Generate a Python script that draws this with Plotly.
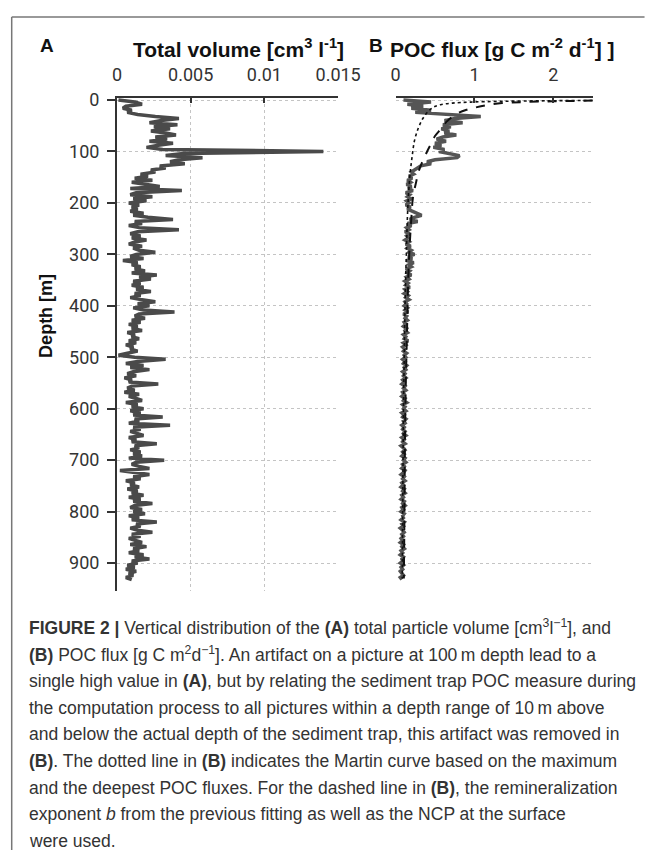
import plotly.graph_objects as go

# Depth grid of the profiles [m]
DEPTH = list(range(0, 936, 4))

# Total particle volume, in 10^-3 cm^3 l^-1 (one row = 40 m)
VOLUME_E3 = [
    0.1, 1.2, 1.7, 0.6, 0.4, 1.0, 0.7, 1.4, 2.6, 4.2,
    3.0, 2.2, 4.1, 2.5, 3.6, 2.3, 3.3, 4.0, 2.6, 3.4,
    2.2, 3.8, 2.8, 2.0, 3.1, 14.0, 4.5, 3.3, 5.8, 4.2,
    3.6, 4.6, 2.9, 3.3, 2.3, 2.6, 1.6, 2.1, 1.2, 2.4,
    1.0, 1.9, 2.9, 0.9, 4.4, 1.3, 0.9, 2.4, 1.1, 2.0,
    0.8, 1.5, 1.0, 1.4, 0.9, 1.8, 1.1, 2.1, 3.8, 1.2,
    1.7, 0.8, 1.5, 4.2, 1.4, 0.9, 1.6, 1.0, 2.0, 1.2,
    0.8, 1.7, 1.1, 1.5, 2.6, 1.3, 0.9, 1.8, 0.4, 1.4,
    1.0, 1.6, 1.2, 1.9, 1.0, 2.7, 1.5, 2.3, 1.1, 1.6,
    1.0, 1.8, 1.3, 2.3, 1.2, 1.6, 0.9, 1.7, 2.6, 1.4,
    2.2, 1.1, 1.8, 3.9, 1.5, 1.2, 1.9, 1.0, 1.6, 0.8,
    1.4, 1.0, 1.7, 0.7, 1.2, 1.0, 1.5, 0.8, 1.3, 0.6,
    1.1, 0.9, 1.4, 0.7, 0.1, 1.2, 3.3, 1.4, 0.6, 1.8,
    0.9, 2.2, 1.1, 0.7, 1.3, 0.5, 1.0, 0.8, 2.8, 1.0,
    0.7, 1.2, 0.5, 1.5, 0.8, 1.3, 1.7, 0.6, 1.4, 1.0,
    1.8, 0.9, 1.6, 1.1, 3.1, 1.2, 1.5, 0.8, 3.6, 1.1,
    1.6, 0.9, 1.4, 1.8, 0.8, 1.3, 1.0, 2.7, 1.2, 1.5,
    0.9, 1.6, 1.1, 1.7, 0.8, 3.2, 1.3, 1.0, 1.5, 2.2,
    0.2, 1.3, 2.2, 1.1, 1.6, 0.6, 1.2, 0.9, 1.5, 0.7,
    1.4, 1.0, 1.8, 0.8, 1.6, 1.1, 2.4, 1.2, 0.9, 1.7,
    1.1, 1.9, 0.8, 1.5, 1.0, 2.7, 1.3, 1.6, 0.9, 1.4,
    2.4, 1.0, 1.6, 0.8, 1.3, 1.7, 0.9, 2.0, 1.1, 1.5,
    0.8, 1.8, 1.2, 2.2, 1.0, 1.4, 0.7, 1.2, 0.6, 1.3,
    0.8, 1.1, 0.6, 1.0,
]

# POC flux [g C m^-2 d^-1] (one row = 40 m)
POC_FLUX = [
    0.1, 0.45, 0.15, 0.35, 0.2, 0.45, 0.25, 0.6, 1.08, 0.75,
    0.62, 0.85, 0.6, 0.7, 0.58, 0.68, 0.62, 0.77, 0.6, 0.52,
    0.64, 0.5, 0.58, 0.48, 0.62, 0.55, 0.66, 0.81, 0.78, 0.5,
    0.4, 0.45, 0.32, 0.28, 0.22, 0.2, 0.23, 0.17, 0.21, 0.15,
    0.19, 0.14, 0.2, 0.16, 0.22, 0.13, 0.18, 0.15, 0.2, 0.14,
    0.17, 0.13, 0.19, 0.15, 0.21, 0.26, 0.33, 0.24, 0.18, 0.28,
    0.15, 0.2, 0.14, 0.17, 0.12, 0.18, 0.14, 0.16, 0.12, 0.17,
    0.13, 0.19, 0.15, 0.2, 0.17, 0.24, 0.16, 0.21, 0.14, 0.23,
    0.17, 0.2, 0.13, 0.18, 0.15, 0.2, 0.14, 0.17, 0.12, 0.16,
    0.13, 0.18, 0.12, 0.15, 0.11, 0.16, 0.13, 0.17, 0.12, 0.14,
    0.11, 0.15, 0.12, 0.16, 0.1, 0.14, 0.12, 0.15, 0.11, 0.13,
    0.1, 0.14, 0.12, 0.15, 0.1, 0.13, 0.11, 0.16, 0.1, 0.13,
    0.09, 0.12, 0.1, 0.14, 0.11, 0.13, 0.09, 0.12, 0.1, 0.14,
    0.11, 0.13, 0.09, 0.12, 0.1, 0.13, 0.09, 0.11, 0.08, 0.12,
    0.1, 0.13, 0.09, 0.11, 0.08, 0.12, 0.1, 0.14, 0.09, 0.12,
    0.1, 0.13, 0.08, 0.11, 0.09, 0.13, 0.1, 0.12, 0.08, 0.11,
    0.09, 0.12, 0.1, 0.13, 0.08, 0.11, 0.09, 0.12, 0.07, 0.1,
    0.12, 0.09, 0.11, 0.08, 0.12, 0.1, 0.13, 0.09, 0.11, 0.08,
    0.12, 0.1, 0.07, 0.11, 0.09, 0.12, 0.08, 0.1, 0.07, 0.11,
    0.09, 0.12, 0.08, 0.1, 0.07, 0.11, 0.09, 0.12, 0.08, 0.1,
    0.07, 0.11, 0.09, 0.1, 0.07, 0.11, 0.08, 0.1, 0.06, 0.09,
    0.11, 0.08, 0.1, 0.07, 0.09, 0.06, 0.1, 0.08, 0.11, 0.07,
    0.09, 0.06, 0.1, 0.08, 0.09, 0.06, 0.1, 0.07, 0.09, 0.06,
    0.08, 0.1, 0.06, 0.08,
]

# Martin curve through the maximum and the deepest flux (dotted)
MARTIN_DEPTH = [0.8, 1.5, 2.5, 4, 6, 9, 14, 21, 35, 54, 79, 110, 150, 210,
                280, 400, 500, 600, 700, 800, 930]
MARTIN_FLUX = [2.5, 1.9, 1.35, 0.95, 0.72, 0.57, 0.48, 0.42, 0.35, 0.29, 0.24,
               0.21, 0.18, 0.155, 0.14, 0.12, 0.11, 0.1, 0.095, 0.09, 0.085]

# Curve from the fitted exponent b and the surface NCP (dashed)
NCP_DEPTH = [1, 2.5, 4, 6, 10, 15, 19, 25, 35, 45, 57, 70, 85, 100, 120, 140,
             160, 190, 230, 280, 350, 450, 550, 650, 750, 850, 930]
NCP_FLUX = [2.5, 2.0, 1.6, 1.35, 1.15, 1.0, 0.9, 0.8, 0.7, 0.63, 0.57, 0.5,
            0.45, 0.4, 0.34, 0.29, 0.26, 0.22, 0.2, 0.18, 0.16, 0.145, 0.13,
            0.12, 0.115, 0.11, 0.105]

VOL_TICKS = [0, 0.005, 0.01, 0.015]
VOL_TICKTEXT = ["0", "0.005", "0.01", "0.015"]
POC_TICKS = [0, 1, 2]
DEPTH_TICKS = [0, 100, 200, 300, 400, 500, 600, 700, 800, 900]

assert len(VOLUME_E3) == len(DEPTH) == len(POC_FLUX)

W, H = 655, 850


def px(x):
    return x / W


def py(y):
    return 1 - y / H


TICK_FONT = dict(family="Roboto, Liberation Sans, sans-serif", size=18, color="#333333")
GRID = dict(showgrid=True, gridcolor="#c4c4c4", gridwidth=1, griddash="dot")
LINE_COL = "#333333"

y_dom = [py(588), py(90)]
y_range = [953.8, -3.85]

fig = go.Figure()

fig.add_trace(go.Scatter(
    x=[v * 1e-3 for v in VOLUME_E3], y=DEPTH, mode="lines",
    line=dict(color="#4a4a4a", width=3.5), xaxis="x", yaxis="y",
))
fig.add_trace(go.Scatter(
    x=POC_FLUX, y=DEPTH, mode="lines",
    line=dict(color="#555555", width=3.5), xaxis="x2", yaxis="y2",
))
fig.add_trace(go.Scatter(
    x=MARTIN_FLUX, y=MARTIN_DEPTH, mode="lines", line_shape="spline",
    line=dict(color="#111111", width=1.6, dash="dot"), xaxis="x2", yaxis="y2",
))
fig.add_trace(go.Scatter(
    x=NCP_FLUX, y=NCP_DEPTH, mode="lines", line_shape="spline",
    line=dict(color="#111111", width=2, dash="dash"), xaxis="x2", yaxis="y2",
))

fig.update_layout(
    width=W, height=H,
    margin=dict(l=0, r=0, t=0, b=0),
    paper_bgcolor="white", plot_bgcolor="white",
    showlegend=False,
    xaxis=dict(
        domain=[px(117), px(348)], range=[0, 0.015], side="top", anchor="y",
        tickvals=VOL_TICKS, ticktext=VOL_TICKTEXT, tickfont=TICK_FONT,
        showline=True, linecolor=LINE_COL, linewidth=2,
        ticks="inside", ticklen=5, tickwidth=1.5, tickcolor=LINE_COL,
        ticklabelstandoff=8, zeroline=False, **GRID,
    ),
    yaxis=dict(
        domain=y_dom, range=y_range, anchor="x",
        tickvals=DEPTH_TICKS, tickfont=TICK_FONT,
        showline=True, linecolor=LINE_COL, linewidth=2,
        ticks="outside", ticklen=8, tickwidth=1.5, tickcolor=LINE_COL,
        ticklabelstandoff=4, zeroline=False, **GRID,
    ),
    xaxis2=dict(
        domain=[px(408), px(614)], range=[0, 2.5], side="top", anchor="y2",
        tickvals=POC_TICKS, tickfont=TICK_FONT,
        showline=True, linecolor=LINE_COL, linewidth=2,
        ticks="inside", ticklen=5, tickwidth=1.5, tickcolor=LINE_COL,
        ticklabelstandoff=8, zeroline=False, showgrid=False,
    ),
    xaxis3=dict(
        domain=[px(408), px(614)], range=[0, 2.5], overlaying="x2", anchor="y2",
        side="bottom", tickvals=[1, 2], showticklabels=False, ticks="",
        showline=False, zeroline=False, **GRID,
    ),
    yaxis2=dict(
        domain=y_dom, range=y_range, anchor="x2",
        tickvals=DEPTH_TICKS, showticklabels=False, ticks="",
        showline=False, zeroline=False, **GRID,
    ),
)

TITLE_FONT = dict(family="Liberation Sans, Arial, sans-serif", size=21, color="#111111")

annotations = [
    dict(x=px(44), y=py(37), text="<b>A</b>", font=dict(TITLE_FONT, size=19)),
    dict(x=px(244), y=py(39), text="<b>Total volume [cm<sup>3</sup> l<sup>-1</sup>]</b>", font=TITLE_FONT),
    dict(x=px(388), y=py(37), text="<b>B</b>", font=dict(TITLE_FONT, size=19)),
    dict(x=px(519), y=py(39), text="<b>POC flux [g C m<sup>-2</sup> d<sup>-1</sup>] ]</b>", font=TITLE_FONT),
    dict(x=px(43), y=py(310), text="<b>Depth [m]</b>", textangle=-90,
         font=dict(TITLE_FONT, size=18)),
]
for a in annotations:
    a.update(xref="paper", yref="paper", showarrow=False, xanchor="center", yanchor="middle")

CAPTION = [
    "<b>FIGURE 2 |</b> Vertical distribution of the <b>(A)</b> total particle volume [cm<sup>3</sup>l<sup>\u22121</sup>], and",
    "<b>(B)</b> POC flux [g C m<sup>2</sup>d<sup>\u22121</sup>]. An artifact on a picture at 100\u2009m depth lead to a",
    "single high value in <b>(A)</b>, but by relating the sediment trap POC measure during",
    "the computation process to all pictures within a depth range of 10\u2009m above",
    "and below the actual depth of the sediment trap, this artifact was removed in",
    "<b>(B)</b>. The dotted line in <b>(B)</b> indicates the Martin curve based on the maximum",
    "and the deepest POC fluxes. For the dashed line in <b>(B)</b>, the remineralization",
    "exponent <i>b</i> from the previous fitting as well as the NCP at the surface",
    "were used.",
]
CAP_FONT = dict(family="Liberation Sans, Arial, sans-serif", size=17.5, color="#333333")
for i, line in enumerate(CAPTION):
    annotations.append(dict(
        x=px(23), y=py(625 + 27 * i), text=line, font=CAP_FONT,
        xref="paper", yref="paper", showarrow=False,
        xanchor="left", yanchor="middle", align="left",
    ))

fig.update_layout(annotations=annotations)

# figure frame
fig.update_layout(shapes=[
    dict(type="line", xref="paper", yref="paper", x0=px(7), x1=1.02, y0=py(8), y1=py(8),
         line=dict(color="#777777", width=1.5)),
    dict(type="line", xref="paper", yref="paper", x0=px(7), x1=px(7), y0=py(8), y1=-0.02,
         line=dict(color="#777777", width=1.5)),
])

fig.write_html("out.html")
